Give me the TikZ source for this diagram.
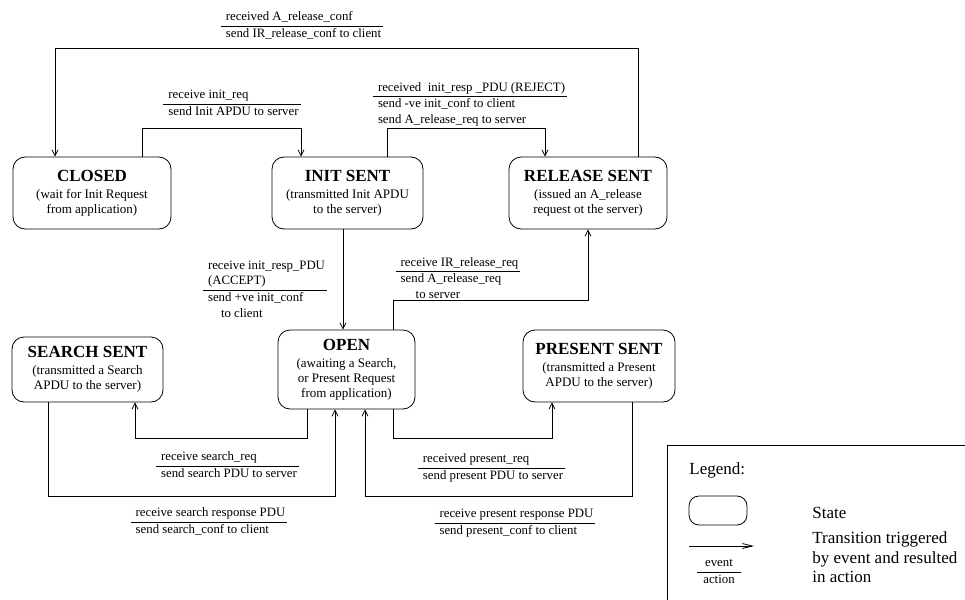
\documentclass[tikz,border=0pt]{standalone}
\usepackage{fontspec}
\setmainfont{Liberation Serif}
\usetikzlibrary{arrows.meta}
\setlength{\arrayrulewidth}{0.8pt}
\renewcommand{\arraystretch}{1.08}
\newcommand{\stitle}[1]{{\fontsize{17}{19}\selectfont\bfseries #1}}
\newcommand{\evact}[2]{\begin{tabular}{@{\hspace{5pt}}l@{\hspace{2pt}}}#1\\\hline #2\end{tabular}}

\begin{document}
\begin{tikzpicture}[x=1pt, y=-1pt, line width=0.8pt,
    >={Straight Barb[length=6pt,width=6pt]},
    statebox/.style={draw, rounded corners=12pt, align=center, inner sep=3pt, font=\fontsize{13}{15}\selectfont},
    evtext/.style={inner sep=0pt, font=\fontsize{12.8}{14.5}\selectfont},
    legtext/.style={inner sep=0pt, align=left, font=\fontsize{17}{19.5}\selectfont}]
    \path[use as bounding box, clip] (0,0) rectangle (965,599);

    % States
    \node[statebox, minimum width=158pt, minimum height=72pt] (closed) at (92,193) {\stitle{CLOSED}\\[2pt](wait for Init Request\\from application)};
    \node[statebox, minimum width=151pt, minimum height=72pt] (init) at (347.5,193) {\stitle{INIT SENT}\\[2pt](transmitted Init APDU\\to the server)};
    \node[statebox, minimum width=158pt, minimum height=72pt] (release) at (588,193) {\stitle{RELEASE SENT}\\[2pt](issued an A\_release\\request ot the server)};
    \node[statebox, minimum width=151pt, minimum height=65pt] (search) at (87.5,369.5) {\stitle{SEARCH SENT}\\[2pt](transmitted a Search\\APDU to the server)};
    \node[statebox, minimum width=137pt, minimum height=79pt] (open) at (346.5,369.5) {\stitle{OPEN}\\[2pt](awaiting a Search,\\or Present Request\\from application)};
    \node[statebox, minimum width=152pt, minimum height=72pt] (present) at (599,366) {\stitle{PRESENT SENT}\\[2pt](transmitted a Present\\APDU to the server)};

    % Transitions
    \draw[->] ([xshift=50pt]release.north) -- ++(0,-108) -| ([xshift=-37pt]closed.north);
    \draw[->] ([xshift=50pt]closed.north) -- ++(0,-28) -| ([xshift=-46.5pt]init.north);
    \draw[->] ([xshift=39.5pt]init.north) -- ++(0,-28) -| ([xshift=-43pt]release.north);
    \draw[->] ([xshift=-4.5pt]init.south) -- ([xshift=-3.5pt]open.north);
    \draw[->] ([xshift=46.5pt]open.north) -- ++(0,-29) -| (release.south);
    \draw[->] ([xshift=-39.5pt]open.south) -- ++(0,29) -| ([xshift=47.5pt]search.south);
    \draw[->] ([xshift=-39.5pt]search.south) -- ++(0,94) -| ([xshift=-11.5pt]open.south);
    \draw[->] ([xshift=46.5pt]open.south) -- ++(0,29) -| ([xshift=-47pt]present.south);
    \draw[->] ([xshift=33pt]present.south) -- ++(0,94) -| ([xshift=18.5pt]open.south);

    % Event / action labels
    \node[evtext] (relconf) at (302,26) {\evact{received A\_release\_conf}{send IR\_release\_conf to client}};
    \node[evtext] (initreq) at (232,104) {\evact{receive init\_req}{send Init APDU to server}};
    \node[evtext] (reject) at (470,104) {\evact{received\ \ init\_resp \_PDU (REJECT)}{send -ve init\_conf to client\\send A\_release\_req to server}};
    \node[evtext] (accept) at (265,290) {\evact{receive init\_resp\_PDU\\(ACCEPT)}{send +ve init\_conf\\\hspace{13pt}to client}};
    \node[evtext] (relreq) at (458,279) {\evact{receive IR\_release\_req}{send A\_release\_req\\\hspace{15pt}to server}};
    \node[evtext] (searchreq) at (227.5,466) {\evact{receive search\_req}{send search PDU to server}};
    \node[evtext] (searchresp) at (209,522) {\evact{receive search response PDU}{send search\_conf to client}};
    \node[evtext] (presreq) at (491.5,468) {\evact{received present\_req}{send present PDU to server}};
    \node[evtext] (presresp) at (515,523) {\evact{receive present response PDU}{send present\_conf to client}};

    % Legend
    \draw (667,620) -- (667,445) -- (990,445);
    \node[legtext, anchor=west] (legtitle) at (689,470) {Legend:};
    \node[draw, rounded corners=10pt, minimum width=58pt, minimum height=29pt] (legstate) at (718,510.5) {};
    \node[legtext, anchor=west] (legstatetxt) at (812,513) {State};
    \coordinate (legfrom) at (689,546);
    \coordinate (legto) at (754,546);
    \draw[-{Straight Barb[length=10pt,width=5pt]}] (legfrom) -- (legto);
    \node[legtext, anchor=west] (legtranstxt) at (812,557.5) {Transition triggered\\by event and resulted\\in action};
    \node[evtext] (legevact) at (719,572) {\begin{tabular}{@{\hspace{6pt}}c@{\hspace{6pt}}}event\\\hline action\end{tabular}};
\end{tikzpicture}
\end{document}
